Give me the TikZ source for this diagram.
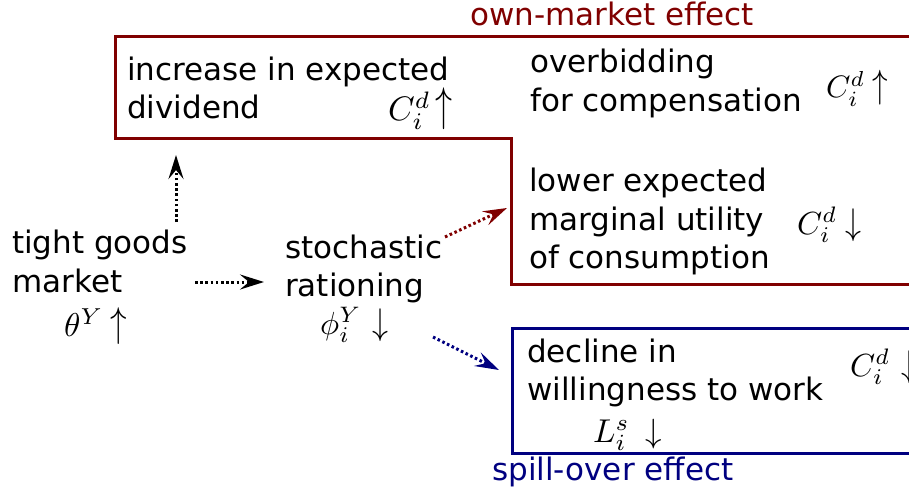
\documentclass[tikz,border=0pt]{standalone}
\usepackage{fontspec}
\setmainfont{DejaVu Sans}
\usepackage{graphicx}
\usetikzlibrary{arrows.meta}
\definecolor{ownred}{RGB}{128,0,0}
\definecolor{spillblue}{RGB}{0,0,128}
\newcommand\myup[1]{\scalebox{1}[#1]{$\uparrow$}}
\newcommand\mydown[1]{\scalebox{1}[#1]{$\downarrow$}}
\newcommand\mymath[2]{\scalebox{#1}{#2}}
\begin{document}
\begin{tikzpicture}[x=1pt,y=-1pt,
  txt/.style={anchor=base west,inner sep=0pt,font=\fontsize{31}{38}\selectfont},
  mth/.style={anchor=base west,inner sep=0pt,font=\fontsize{10}{12}\selectfont},
  effbox/.style={line width=3pt,line join=miter},
  flow/.style={line width=3pt,dash pattern=on 2.6pt off 2.6pt,
    -{Stealth[length=24pt,width=15pt,inset=9pt]}}]
\useasboundingbox (0,0) rectangle (909,492);
\clip (0,0) rectangle (909,492);
% effect boxes
\draw[effbox,ownred] (940,37) -- (115,37) -- (115,138) -- (511,138) -- (511,284) -- (940,284);
\draw[effbox,spillblue] (940,328) -- (512,328) -- (512,453) -- (940,453);
% labels of the effects
\node[txt,text=ownred] (own) at (470,26) {own-market effect};
\node[txt,text=spillblue] (spill) at (492,480) {spill-over effect};
% texts
\node[txt] (inc1) at (127,81) {increase in expected};
\node[txt] (inc2) at (127,118) {dividend};
\node[txt] (ovb1) at (530,73) {overbidding};
\node[txt] (ovb2) at (530,111) {for compensation};
\node[txt] (low1) at (529,191) {lower expected};
\node[txt] (low2) at (529,230) {marginal utility};
\node[txt] (low3) at (529,268) {of consumption};
\node[txt] (tg1) at (12,253) {tight goods};
\node[txt] (tg2) at (12,292) {market};
\node[txt] (st1) at (285,258) {stochastic};
\node[txt] (st2) at (285,296) {rationing};
\node[txt] (dec1) at (527,362) {decline in};
\node[txt] (dec2) at (527,400) {willingness to work};
% math
\node[mth] (m1) at (388,121) {\mymath{3.4}{$C_i^d$\hspace{1.4pt}\myup{1.39}}};
\node[mth] (m2) at (826,98) {\mymath{3.1}{$C_i^d$\hspace{2.3pt}\myup{1.27}}};
\node[mth] (m3) at (797,234) {\mymath{3.2}{$C_i^d$\hspace{2.7pt}\mydown{1.16}}};
\node[mth] (m4) at (850,376) {\mymath{3.2}{$C_i^d$\hspace{3.6pt}\mydown{1.16}}};
\node[mth] (m5) at (64,336) {\mymath{3.3}{$\theta^Y$\hspace{2.2pt}\myup{1.26}}};
\node[mth] (m6) at (320,334) {\mymath{3.2}{$\phi_i^Y$\hspace{3.5pt}\mydown{1.16}}};
\node[mth] (m7) at (593,442) {\mymath{3.3}{$L_i^s$\hspace{4.8pt}\mydown{1.02}}};
% connectors
\coordinate (upS) at (176,222);
\coordinate (upE) at (176,155);
\coordinate (rtS) at (195,282);
\coordinate (rtE) at (264,282);
\coordinate (rdS) at (445,237);
\coordinate (rdE) at (507,208);
\coordinate (blS) at (433,337);
\coordinate (blE) at (499,370);
\draw[flow] (upS) -- (upE);
\draw[flow] (rtS) -- (rtE);
\draw[flow,ownred] (rdS) -- (rdE);
\draw[flow,spillblue] (blS) -- (blE);
\end{tikzpicture}
\end{document}
